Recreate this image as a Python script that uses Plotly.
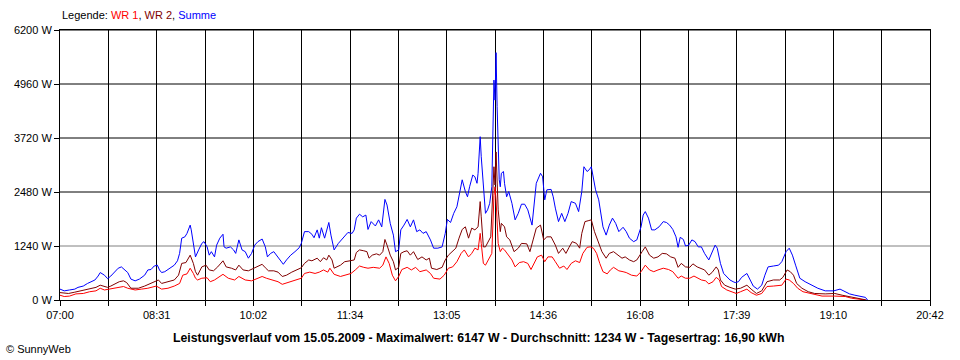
import plotly.graph_objects as go

# Time axis: minutes after 07:00 (axis spans 07:00 .. 20:42)
tick_labels = ["07:00", "08:31", "10:02", "11:34", "13:05", "14:36", "16:08", "17:39", "19:10", "20:42"]
y_ticks = [0, 1240, 2480, 3720, 4960, 6200]

# Summe (blue)
summe_t = [0, 4, 9, 14, 17, 22, 26, 30, 33, 36, 38, 42, 45, 48, 52, 55, 58, 61, 64, 67, 71, 75, 80, 83, 86, 89,
           92, 94, 96, 99, 102, 105, 108, 111, 113, 115, 118, 120, 123, 124, 126, 128, 131, 134, 136, 139, 141,
           143, 146, 148, 151, 154, 155, 157, 161, 164, 166, 169, 172, 175, 178, 181, 184, 187, 191, 194, 196,
           199, 202, 206, 209, 211, 214, 218, 222, 226, 228, 231, 235, 238, 240, 243, 245, 247, 250, 254, 256,
           259, 263, 266, 269, 272, 276, 278, 280, 283, 286, 289, 291, 294, 298, 301, 304, 307, 309, 312, 315,
           317, 320, 322, 325, 328, 331, 334, 337, 340, 343, 346, 350, 353, 357, 361, 364, 366, 369, 372, 375,
           378, 380, 383, 385, 387, 390, 392, 394, 395, 397, 398, 400, 402, 404, 406, 408, 410, 411, 412, 413,
           414, 415, 416, 417, 419, 420, 422, 424, 427, 430, 433, 436, 439, 442, 446, 448, 450, 454, 456, 458,
           460, 464, 466, 468, 471, 474, 477, 480, 483, 487, 490, 493, 495, 498, 500, 502, 504, 506, 509, 513,
           516, 519, 522, 525, 528, 532, 535, 538, 542, 545, 549, 551, 553, 556, 559, 562, 566, 570, 573, 576,
           579, 582, 584, 586, 589, 591, 594, 597, 600, 603, 606, 609, 613, 616, 619, 621, 624, 627, 630, 633,
           636, 638, 641, 644, 649, 652, 655, 659, 663, 666, 669, 674, 679, 682, 686, 689, 692, 695, 699, 704,
           710, 716, 723, 731, 737, 742, 746, 751, 756, 761, 763]
summe_w = [250, 210, 230, 250, 290, 320, 380, 420, 460, 550, 630, 570, 490, 550, 650, 730, 760, 700, 630, 480, 440,
           480, 570, 690, 700, 780, 800, 690, 630, 650, 700, 740, 800, 900, 1070, 1420, 1450, 1530, 1720, 1610,
           1300, 990, 1150, 1300, 1340, 1220, 1030, 1110, 990, 1260, 1420, 1510, 1220, 1190, 1220, 1150, 1070,
           1380, 1150, 1110, 960, 1070, 1260, 1340, 1400, 1220, 990, 1070, 1110, 990, 880, 820, 920, 1030, 1110,
           1200, 1300, 1570, 1570, 1510, 1430, 1610, 1420, 1660, 1420, 1780, 1490, 1150, 1300, 1380, 1470, 1550,
           1530, 1610, 1880, 1970, 1910, 1950, 1620, 1800, 1700, 1840, 1680, 2310, 2180, 1760, 1490, 1110, 1150,
           1610, 1720, 1850, 1680, 1840, 1570, 1610, 1530, 1570, 1380, 1190, 1190, 1220, 1530, 1850, 1780, 1990,
           2140, 2530, 2760, 2490, 2370, 2600, 2870, 2830, 2680, 2910, 3750, 3290, 2530, 1990, 2070, 2220, 2600,
           5050, 4590, 5680, 4440, 3750, 2760, 2600, 2910, 2950, 2680, 2370, 2490, 2220, 1840, 1990, 2200, 2200,
           2070, 1720, 2220, 2680, 2910, 2830, 2300, 2530, 2540, 2370, 2110, 1800, 1990, 1800, 1990, 2260, 2220,
           2030, 2490, 3060, 2950, 2990, 3060, 2830, 2530, 2300, 1680, 1490, 1720, 1880, 1760, 1570, 1670, 1570,
           1420, 1340, 1380, 1680, 1950, 2030, 1880, 1610, 1610, 1680, 1800, 1780, 1720, 1620, 1450, 1210, 1440,
           1390, 1240, 1260, 1380, 1340, 1220, 1220, 1070, 920, 1070, 1260, 1190, 840, 610, 540, 460, 420, 400,
           420, 520, 610, 460, 320, 250, 340, 570, 760, 780, 800, 880, 1110, 1190, 1030, 800, 500, 420, 340, 270,
           210, 210, 250, 190, 140, 110, 90, 60, 0]

# WR 2 (dark red)
wr2_t = [0, 8, 14, 19, 25, 30, 34, 38, 41, 45, 48, 53, 56, 60, 63, 67, 74, 80, 85, 89, 93, 96, 102, 108, 112, 115,
         119, 123, 126, 128, 130, 134, 138, 141, 145, 149, 154, 157, 162, 166, 169, 173, 178, 183, 187, 191, 194,
         197, 202, 206, 210, 214, 219, 224, 228, 231, 235, 238, 243, 246, 249, 252, 254, 257, 259, 265, 269, 274,
         278, 280, 283, 287, 290, 292, 295, 299, 302, 305, 307, 309, 312, 315, 317, 320, 322, 325, 328, 331, 334,
         338, 342, 346, 349, 351, 356, 361, 364, 367, 371, 374, 377, 380, 383, 386, 389, 392, 395, 397, 398, 400,
         402, 405, 407, 410, 411, 412, 413, 414, 416, 417, 420, 422, 425, 429, 433, 436, 441, 444, 447, 450, 454,
         457, 460, 464, 468, 471, 475, 478, 481, 484, 488, 491, 493, 496, 499, 502, 505, 508, 512, 516, 519, 523,
         527, 531, 534, 538, 542, 545, 550, 553, 557, 561, 565, 569, 573, 577, 581, 584, 587, 591, 595, 598, 602,
         606, 609, 613, 616, 620, 622, 624, 628, 633, 638, 643, 649, 653, 658, 663, 668, 674, 680, 683, 687, 690,
         693, 696, 701, 707, 713, 723, 732, 739, 745, 751, 757, 762]
wr2_w = [170, 150, 180, 210, 250, 270, 290, 340, 320, 290, 320, 380, 420, 440, 400, 270, 270, 320, 370, 420, 460,
         380, 420, 460, 570, 840, 860, 1030, 840, 650, 570, 760, 800, 690, 670, 760, 900, 760, 730, 690, 800, 690,
         670, 730, 760, 820, 740, 670, 670, 640, 540, 570, 640, 690, 740, 840, 920, 900, 960, 880, 970, 920, 1030,
         920, 730, 800, 880, 900, 920, 1090, 1150, 1130, 1110, 960, 1030, 1060, 1030, 1110, 1390, 1260, 1030, 880,
         690, 750, 1070, 1110, 1130, 1030, 1110, 930, 990, 920, 960, 730, 700, 750, 920, 1030, 1110, 1190, 1420,
         1620, 1680, 1420, 1650, 1610, 1680, 2260, 1910, 1220, 1220, 1380, 1450, 3060, 2640, 3400, 2680, 2070,
         1570, 1760, 1680, 1450, 1380, 1110, 1190, 1300, 1290, 1110, 1380, 1650, 1720, 1380, 1450, 1450, 1260,
         1070, 1190, 1070, 1210, 1340, 1300, 1190, 1530, 1800, 1820, 1840, 1570, 1380, 1110, 960, 1070, 1110, 1030,
         960, 990, 920, 880, 920, 1110, 1220, 1030, 960, 990, 1070, 1060, 990, 960, 750, 840, 760, 750, 830, 760,
         730, 690, 570, 630, 760, 690, 460, 340, 290, 250, 270, 340, 250, 150, 210, 420, 460, 460, 520, 690, 650,
         570, 380, 270, 190, 150, 140, 150, 110, 80, 40, 20, 0]

# WR 1 (red)
wr1_t = [0, 4, 9, 15, 22, 28, 34, 38, 42, 47, 53, 60, 64, 71, 77, 83, 91, 96, 102, 108, 113, 116, 120, 123, 126,
         128, 130, 134, 139, 142, 146, 151, 154, 159, 165, 169, 175, 181, 187, 191, 195, 202, 206, 210, 216, 222,
         228, 231, 236, 241, 245, 249, 253, 255, 259, 265, 269, 275, 279, 283, 287, 291, 296, 302, 305, 308, 311,
         314, 317, 320, 323, 328, 332, 336, 340, 346, 350, 353, 359, 363, 367, 371, 375, 379, 382, 386, 389, 392,
         395, 397, 398, 400, 402, 405, 408, 410, 411, 412, 413, 414, 416, 418, 420, 424, 427, 430, 434, 438, 442,
         445, 448, 451, 455, 458, 461, 465, 468, 472, 476, 479, 483, 487, 491, 494, 498, 501, 504, 507, 510, 513,
         517, 520, 523, 528, 532, 535, 540, 545, 549, 553, 557, 561, 565, 570, 575, 579, 584, 587, 591, 595, 599,
         603, 606, 610, 613, 617, 620, 623, 625, 630, 635, 639, 643, 649, 653, 658, 663, 668, 674, 682, 686, 689,
         693, 697, 702, 710, 720, 732, 742, 748, 754, 761]
wr1_w = [110, 80, 90, 140, 150, 190, 210, 270, 230, 250, 290, 310, 270, 230, 250, 270, 320, 250, 270, 320, 380, 570,
         600, 730, 610, 500, 460, 500, 510, 420, 460, 540, 590, 500, 460, 540, 460, 440, 500, 540, 500, 440, 420,
         360, 410, 460, 500, 610, 640, 610, 640, 690, 640, 730, 590, 540, 570, 610, 690, 780, 750, 730, 750, 730,
         800, 990, 840, 570, 440, 540, 700, 750, 690, 750, 650, 690, 610, 500, 480, 570, 730, 760, 880, 1070, 1150,
         990, 1070, 1190, 1150, 1530, 1300, 840, 800, 920, 1070, 2400, 2600, 2300, 1700, 1300, 1110, 1190, 1150,
         1030, 920, 760, 860, 880, 840, 700, 840, 990, 1030, 880, 990, 990, 880, 730, 780, 700, 840, 900, 860,
         1070, 1210, 1220, 1190, 1070, 840, 650, 600, 690, 750, 670, 650, 630, 570, 550, 650, 800, 690, 650, 690,
         730, 700, 650, 500, 550, 500, 500, 550, 500, 460, 440, 370, 420, 520, 460, 310, 230, 190, 150, 190, 250,
         170, 110, 150, 310, 320, 340, 480, 460, 380, 270, 190, 140, 90, 90, 80, 40, 20, 0]

TOTAL_MIN = 822  # 07:00 -> 20:42
n_div = 18
tick_pos = [TOTAL_MIN * k / n_div for k in range(n_div + 1)]
tick_txt = [tick_labels[k // 2] if k % 2 == 0 else "" for k in range(n_div + 1)]

FONT = "Liberation Sans, Arial, sans-serif"

fig = go.Figure()
fig.add_trace(go.Scatter(x=wr1_t, y=wr1_w, mode="lines", name="WR 1",
                         line=dict(color="#FF0000", width=1)))
fig.add_trace(go.Scatter(x=wr2_t, y=wr2_w, mode="lines", name="WR 2",
                         line=dict(color="#800000", width=1)))
fig.add_trace(go.Scatter(x=summe_t, y=summe_w, mode="lines", name="Summe",
                         line=dict(color="#0000FF", width=1)))

fig.update_layout(
    width=960, height=360,
    margin=dict(l=60, r=30, t=30, b=60),
    paper_bgcolor="white", plot_bgcolor="white",
    showlegend=False,
    font=dict(family=FONT, size=11, color="black"),
    xaxis=dict(range=[0, TOTAL_MIN], tickmode="array", tickvals=tick_pos, ticktext=tick_txt,
               showgrid=True, gridcolor="black", gridwidth=1, zeroline=False,
               showline=True, linecolor="black", linewidth=1, mirror=True,
               ticks="outside", ticklen=5, tickcolor="black", tickfont=dict(size=11, family=FONT)),
    yaxis=dict(range=[0, 6200], tickmode="array", tickvals=y_ticks,
               ticktext=[f"{v} W" for v in y_ticks],
               showgrid=False, zeroline=False,
               showline=True, linecolor="black", linewidth=1, mirror=True,
               ticks="outside", ticklen=5, tickcolor="black", tickfont=dict(size=11, family=FONT)),
)

# horizontal grid lines (1240 W line is gray in the original)
for v in y_ticks[1:]:
    fig.add_shape(type="line", xref="x", yref="y", x0=0, x1=TOTAL_MIN, y0=v, y1=v,
                  line=dict(color="#808080" if v == y_ticks[1] else "black", width=1), layer="below")

fig.add_annotation(xref="paper", yref="paper", x=0.0, y=1.055, xanchor="left", yanchor="middle",
                   showarrow=False, font=dict(size=11, family=FONT),
                   text="Legende: <span style='color:#FF0000'>WR 1</span>, "
                        "<span style='color:#800000'>WR 2</span>, "
                        "<span style='color:#0000FF'>Summe</span>")
fig.add_annotation(xref="paper", yref="paper", x=0.4815, y=-0.14, xanchor="center", yanchor="middle",
                   showarrow=False, font=dict(size=12.3, family=FONT, color="black"),
                   text="<b>Leistungsverlauf vom 15.05.2009 - Maximalwert: 6147 W - Durchschnitt: 1234 W - "
                        "Tagesertrag: 16,90 kWh</b>")
fig.add_annotation(xref="paper", yref="paper", x=-0.064, y=-0.18, xanchor="left", yanchor="middle",
                   showarrow=False, font=dict(size=11, family=FONT),
                   text="© SunnyWeb")

fig.write_html("out.html", config={"displayModeBar": False},
               post_script="document.body.style.margin='0';document.body.style.overflow='hidden';")
